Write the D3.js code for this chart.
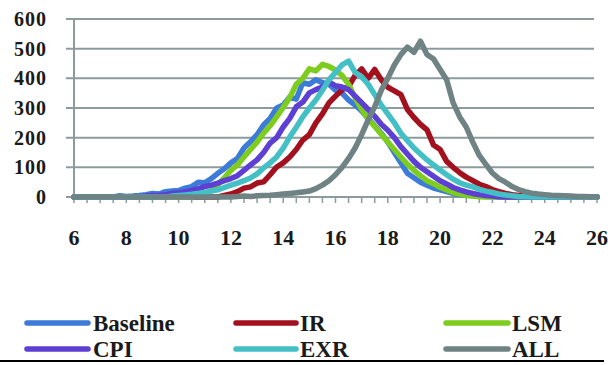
<!DOCTYPE html>
<html>
<head>
<meta charset="utf-8">
<script src="https://cdn.jsdelivr.net/npm/d3@7"></script>
<style>
  html, body { margin: 0; padding: 0; background: #ffffff; }
  svg { display: block; }
  text { font-family: "Liberation Serif", "Times New Roman", serif; font-weight: bold; fill: #1a1a1a; }
</style>
</head>
<body>
<svg id="chart" width="608" height="365"></svg>
<script>
// ---- data (x grid: 6 to 26 in steps of 0.25) ----
const xStart = 6, xStep = 0.25;
const seriesNames = ["Baseline", "IR", "LSM", "CPI", "EXR", "ALL"];
const seriesColors = ["#3d7bd9", "#a3111f", "#7dcc1e", "#5d3fd3", "#44bfc6", "#6f8284"];

const baseline = [0,0,0,0,0,0,0,
  4,2,3,5,8,12,10,18,20,22,
  30,35,50,48,62,80,95,115,130,165,
  186,210,243,265,300,310,337,330,385,380,
  395,385,380,360,350,327,310,290,265,240,
  215,185,150,115,80,65,50,40,30,24,
  18,12,8,6,4,3,2,2,
  0,0,0,0,0,0,0,0,0,0,0,0,0,0,0,0];
const ir = [0,0,0,0,0,0,0,0,0,0,0,0,0,0,0,0,0,0,0,0,0,0,0,
  5,10,18,30,34,47,51,75,101,115,
  135,160,192,210,250,280,317,340,361,372,
  410,432,400,430,395,370,358,345,295,268,
  245,226,175,160,120,100,82,67,55,43,
  35,25,18,12,8,5,3,1,
  0,0,0,0,0,0,0,0,0,0];
const lsm = [0,0,0,0,0,0,0,0,0,0,0,0,0,0,0,0,0,0,0,
  5,12,22,42,65,90,108,135,160,185,
  215,240,270,302,335,380,400,432,425,447,
  440,428,410,380,335,295,262,238,212,185,
  160,135,110,90,72,55,45,33,24,15,
  10,6,3,1,
  0,0,0,0,0,0,0,0,0,0,0,0,0,0,0,0,0,0];
const cpi = [0,0,0,0,0,0,0,0,0,0,0,
  3,5,6,8,12,14,18,22,28,35,
  40,47,55,62,72,90,108,125,150,182,
  200,236,265,304,320,351,362,371,388,375,
  371,362,340,318,295,272,245,225,200,170,
  145,120,100,85,70,55,44,32,24,17,
  12,8,5,3,1,
  0,0,0,0,0,0,0,0,0,0,0,0,0,0,0];
const exr = [0,0,0,0,0,0,0,0,0,0,0,0,0,0,0,
  3,5,7,9,12,15,20,24,32,40,
  47,55,64,78,98,115,135,165,202,235,
  270,300,327,360,395,420,445,458,420,405,
  380,345,310,280,250,215,190,165,145,125,
  108,91,75,60,48,40,34,26,20,15,
  10,7,4,2,1,
  0,0,0,0,0,0,0,0,0,0,0];
const all = [0,0,0,0,0,0,0,0,0,0,0,0,0,0,0,0,0,0,0,0,0,0,0,0,0,
  2,3,2,4,5,6,8,10,12,14,
  17,20,28,40,55,75,100,130,165,210,
  260,304,360,400,445,480,505,488,525,480,
  465,430,395,317,270,236,185,140,110,81,
  62,50,35,25,18,13,10,8,6,5,
  4,3,2,2,1,0];
const seriesValues = [baseline, ir, lsm, cpi, exr, all];

const xTickLabels = [6, 8, 10, 12, 14, 16, 18, 20, 22, 24, 26];
const yTickLabels = [0, 100, 200, 300, 400, 500, 600];

// ---- layout ----
const svg = d3.select("#chart");
const axisColor = "#8c9c9c";
const x = d3.scaleLinear().domain([6, 26]).range([74, 597]);
const y = d3.scaleLinear().domain([0, 600]).range([197, 19]);

// gridlines
svg.append("g").selectAll("line").data(yTickLabels).join("line")
  .attr("x1", 66).attr("x2", 594)
  .attr("y1", d => y(d)).attr("y2", d => y(d))
  .attr("stroke", axisColor).attr("stroke-width", 2);

// y axis line
svg.append("line").attr("x1", x(6)).attr("x2", x(6))
  .attr("y1", y(600)).attr("y2", y(0))
  .attr("stroke", axisColor).attr("stroke-width", 2);

// x minor ticks (every 0.5)
const minorTicks = d3.range(6, 26.001, 0.5);
svg.append("g").selectAll("line").data(minorTicks).join("line")
  .attr("x1", d => x(d)).attr("x2", d => x(d))
  .attr("y1", y(0)).attr("y2", y(0) + 6)
  .attr("stroke", axisColor).attr("stroke-width", 1.5);

// y labels
svg.append("g").selectAll("text").data(yTickLabels).join("text")
  .attr("x", 47).attr("y", d => y(d))
  .attr("text-anchor", "end").attr("dominant-baseline", "central")
  .attr("font-size", 20).attr("letter-spacing", 1)
  .text(d => d);

// x labels
svg.append("g").selectAll("text").data(xTickLabels).join("text")
  .attr("x", d => x(d)).attr("y", 237)
  .attr("text-anchor", "middle").attr("dominant-baseline", "central")
  .attr("font-size", 22)
  .text(d => d);

// lines
const line = d3.line()
  .x((d, i) => x(xStart + i * xStep))
  .y(d => y(d));

svg.append("g").selectAll("path").data(seriesValues).join("path")
  .attr("d", d => line(d))
  .attr("fill", "none")
  .attr("stroke", (d, i) => seriesColors[i])
  .attr("stroke-width", 5.5)
  .attr("stroke-linejoin", "round")
  .attr("stroke-linecap", "round");

// legend
const legCols = [[27, 88, 93], [236, 296, 300], [446, 508, 512]];
const legRows = [323, 349];
const leg = svg.append("g");
seriesNames.forEach((name, i) => {
  const c = legCols[i % 3], r = legRows[Math.floor(i / 3)];
  leg.append("line").attr("x1", c[0]).attr("x2", c[1]).attr("y1", r).attr("y2", r)
    .attr("stroke", seriesColors[i]).attr("stroke-width", 5.5).attr("stroke-linecap", "round");
  leg.append("text").attr("x", c[2]).attr("y", r).attr("dominant-baseline", "central")
    .attr("font-size", 23).text(name);
});

// bottom rule
svg.append("line").attr("x1", 0).attr("x2", 604).attr("y1", 361).attr("y2", 361)
  .attr("stroke", "#000").attr("stroke-width", 2);
</script>
</body>
</html>
